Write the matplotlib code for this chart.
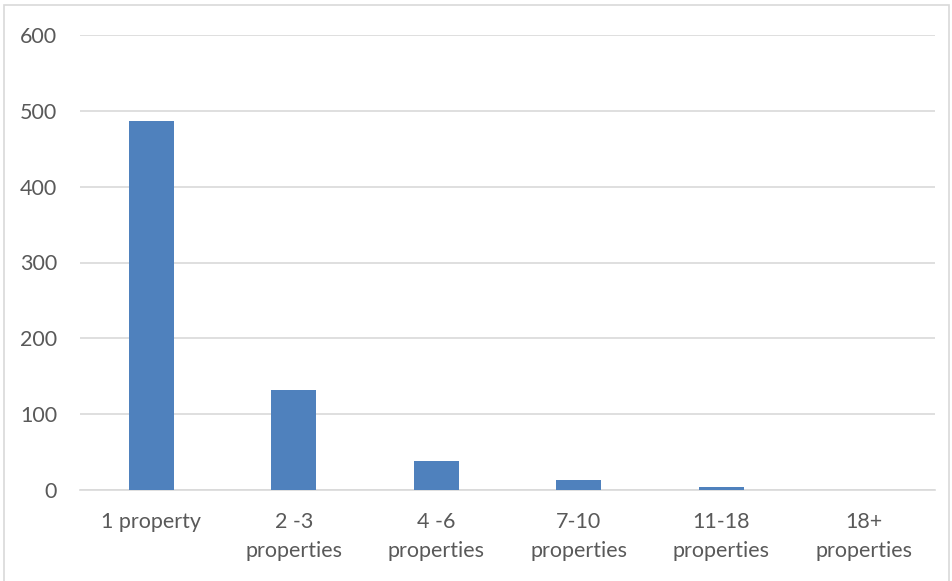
import matplotlib.pyplot as plt
from matplotlib.patches import Rectangle
import numpy as np

plt.rcParams['font.family'] = ['Lato', 'DejaVu Sans']

categories = ['1 property', '2 -3\nproperties', '4 -6\nproperties',
              '7-10\nproperties', '11-18\nproperties', '18+\nproperties']
values = [487, 132, 38, 13, 4, 0]
yticks = [0, 100, 200, 300, 400, 500, 600]

W, H = 952, 581
fig = plt.figure(figsize=(W / 100, H / 100), dpi=100)
ax = fig.add_axes([80 / W, 1 - 490 / H, (935 - 80) / W, (490 - 35) / H])

# chart border
fig.patches.append(Rectangle((4 / W, -0.01), 945 / W, 1 - 5 / H + 0.01,
                             transform=fig.transFigure, fill=False,
                             edgecolor='#d9d9d9', linewidth=1.2))

x = np.arange(len(categories))
ax.bar(x, values, width=0.316, color='#4f81bd', zorder=3)

ax.set_xlim(-0.5, len(categories) - 0.5)
ax.set_ylim(0, 600)
ax.set_yticks(yticks)
ax.set_xticks(x)
ax.set_xticklabels(categories, linespacing=1.6)
ax.grid(axis='y', color='#d9d9d9', linewidth=1.2, zorder=0)
for s in ['top', 'right', 'left']:
    ax.spines[s].set_visible(False)
ax.spines['bottom'].set_color('#d9d9d9')
ax.spines['bottom'].set_linewidth(1.2)
ax.tick_params(axis='both', length=0, labelsize=15.5, labelcolor='#595959')
ax.tick_params(axis='x', pad=15.5)
ax.tick_params(axis='y', pad=16.5)

fig.savefig('out.png', dpi=100)
